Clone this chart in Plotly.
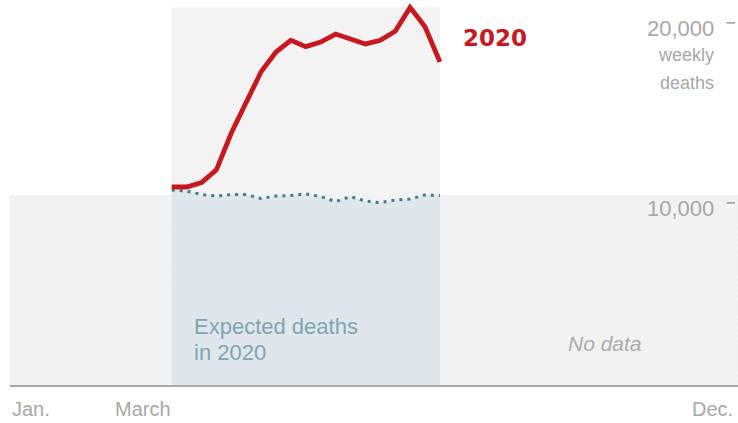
import plotly.graph_objects as go

# ---- data ----
weeks = [11, 12, 13, 14, 15, 16, 17, 18, 19, 20, 21, 22, 23, 24, 25, 26, 27, 28, 29]
deaths_2020 = [11000, 11000, 11250, 11950, 14000, 15750, 17400, 18500, 19150, 18800,
               19050, 19500, 19200, 18950, 19150, 19650, 20980, 19900, 17950]
expected_2020 = [10830, 10780, 10580, 10500, 10580, 10580, 10360, 10500, 10530, 10620,
                 10470, 10190, 10470, 10220, 10130, 10280, 10330, 10560, 10530]
no_data_level = 10550

x_range = [0.148, 49.007]
y_range = [0, 21390]

ytick_vals = [10000, 20000]
ytick_text = ["10,000", "20,000"]
xtick_pos = [0.148, 9.1, 48.8]
xtick_text = ["Jan.", "March", "Dec."]
xtick_anchor = ["left", "center", "right"]

RED = "#c8171e"
TEAL = "#3f7d93"
BLUE_FILL = "#dfe7eb"
GRAY_TXT = "#a8a8a8"
FONT = "Liberation Sans, Arial, sans-serif"

fig = go.Figure()

# hatched "no data" background
fig.add_trace(go.Scatter(
    x=[x_range[0], x_range[1], x_range[1], x_range[0], x_range[0]],
    y=[0, 0, no_data_level, no_data_level, 0],
    mode="lines", line=dict(width=0), fill="toself",
    fillcolor="#f2f2f2",
    fillpattern=dict(shape="/", bgcolor="#f3f3f3", fgcolor="#e9e9e9", size=4, solidity=0.25),
    hoverinfo="skip", showlegend=False))

# light gray box behind the 2020 data period
fig.add_shape(type="rect", xref="x", yref="y",
              x0=weeks[0], x1=weeks[-1], y0=0, y1=max(deaths_2020),
              fillcolor="#f3f3f3", line=dict(width=0), layer="below")

# expected deaths (dotted, filled)
fig.add_trace(go.Scatter(
    x=weeks, y=expected_2020, mode="lines",
    line=dict(color=TEAL, width=3, dash="3px,5px"),
    fill="tozeroy", fillcolor=BLUE_FILL,
    hoverinfo="skip", showlegend=False))

# 2020 deaths
fig.add_trace(go.Scatter(
    x=weeks, y=deaths_2020, mode="lines",
    line=dict(color=RED, width=4.8),
    hoverinfo="skip", showlegend=False))

ann = []
# y labels on right
for v, t in zip(ytick_vals, ytick_text):
    ann.append(dict(x=(716 - 10) / 728, xref="paper", y=v, yref="y", text=t,
                    xanchor="right", yanchor="middle", yshift=-3, showarrow=False,
                    font=dict(family=FONT, size=22, color=GRAY_TXT)))
    fig.add_shape(type="line", xref="paper", yref="y",
                  x0=(726.5 - 10) / 728, x1=(735 - 10) / 728, y0=v + 120, y1=v + 120,
                  line=dict(color="#9a9a9a", width=1.5))
ann.append(dict(x=(716 - 10) / 728, xref="paper", y=ytick_vals[1], yref="y", text="weekly",
                xanchor="right", yanchor="middle", yshift=-30, showarrow=False,
                font=dict(family=FONT, size=18, color=GRAY_TXT)))
ann.append(dict(x=(716 - 10) / 728, xref="paper", y=ytick_vals[1], yref="y", text="deaths",
                xanchor="right", yanchor="middle", yshift=-58, showarrow=False,
                font=dict(family=FONT, size=18, color=GRAY_TXT)))

# x labels
for p, t, a in zip(xtick_pos, xtick_text, xtick_anchor):
    ann.append(dict(x=p, xref="x", y=(385 - 409) / 385, yref="paper", text=t,
                    xanchor=a, yanchor="middle", showarrow=False,
                    font=dict(family=FONT, size=20, color=GRAY_TXT)))

# series labels
ann.append(dict(x=(461 - 10) / 728, xref="paper", y=1 - 38 / 385, yref="paper", text="<b>2020</b>",
                xanchor="left", yanchor="middle", showarrow=False,
                font=dict(family="DejaVu Sans, sans-serif", size=23, color=RED)))
ann.append(dict(x=(192 - 10) / 728, xref="paper", y=1 - 326 / 385, yref="paper", text="Expected deaths",
                xanchor="left", yanchor="middle", showarrow=False,
                font=dict(family=FONT, size=22, color="#7fa5b8")))
ann.append(dict(x=(192 - 10) / 728, xref="paper", y=1 - 352 / 385, yref="paper", text="in 2020",
                xanchor="left", yanchor="middle", showarrow=False,
                font=dict(family=FONT, size=22, color="#7fa5b8")))
ann.append(dict(x=(605 - 10) / 728, xref="paper", y=1 - 343 / 385, yref="paper", text="<i>No data</i>",
                xanchor="center", yanchor="middle", showarrow=False,
                font=dict(family=FONT, size=21, color="#ababab")))

fig.update_layout(
    width=738, height=423,
    margin=dict(l=10, r=0, t=0, b=38),
    paper_bgcolor="white", plot_bgcolor="white",
    annotations=ann,
    xaxis=dict(range=x_range, showgrid=False, zeroline=False, showticklabels=False,
               showline=True, linecolor="#aaaaaa", linewidth=2, ticks="", fixedrange=True),
    yaxis=dict(range=y_range, showgrid=False, zeroline=False, showticklabels=False,
               showline=False, ticks="", fixedrange=True),
    showlegend=False,
    hovermode=False,
)

fig.write_html("out.html",
               config={"displayModeBar": False, "staticPlot": True},
               post_script="document.body.style.margin='0';document.body.style.padding='0';"
                           "document.body.style.overflow='hidden';")
